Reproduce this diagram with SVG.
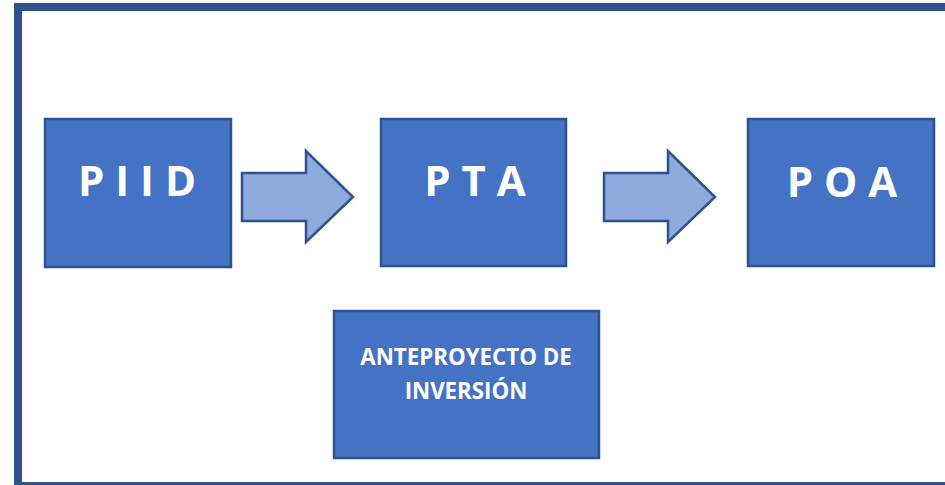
<svg xmlns="http://www.w3.org/2000/svg" width="945" height="485" viewBox="0 0 945 485">
<defs>
<style>
.box{fill:#4472C4;stroke:#2F528F;stroke-width:2.5}
.arrow{fill:#8FAADC;stroke:#2F528F;stroke-width:2.5;stroke-linejoin:miter}
.big{font-family:"Open Sans","Liberation Sans",sans-serif;font-weight:700;font-size:42px;fill:#FFFFFF;text-anchor:middle}
.small{font-family:"Open Sans","Liberation Sans",sans-serif;font-weight:700;font-size:22.3px;fill:#FFFFFF;text-anchor:middle}
</style>
</defs>
<rect x="0" y="0" width="945" height="485" fill="#FFFFFF"/>
<rect id="frame" x="18" y="7" width="940" height="479" fill="none" stroke="#2F528F" stroke-width="8"/>
<g id="connectors">
<polygon class="arrow" points="242,173 306,173 306,151 353,197 306,242 306,221 242,221"/>
<polygon class="arrow" points="604,173 668,173 668,151 715,197 668,242 668,221 604,221"/>
</g>
<g id="piid">
<rect class="box" x="45" y="119" width="186" height="148"/>
<text class="big" x="137" y="196">P I I D</text>
</g>
<g id="pta">
<rect class="box" x="381" y="119" width="185" height="147"/>
<text class="big" x="475" y="196">P T A</text>
</g>
<g id="poa">
<rect class="box" x="748" y="119" width="186" height="147"/>
<text class="big" x="842" y="197">P O A</text>
</g>
<g id="anteproyecto">
<rect class="box" x="334" y="311" width="265" height="147"/>
<text class="small" x="466" y="365">ANTEPROYECTO DE</text>
<text class="small" x="466" y="399">INVERSIÓN</text>
</g>
</svg>
